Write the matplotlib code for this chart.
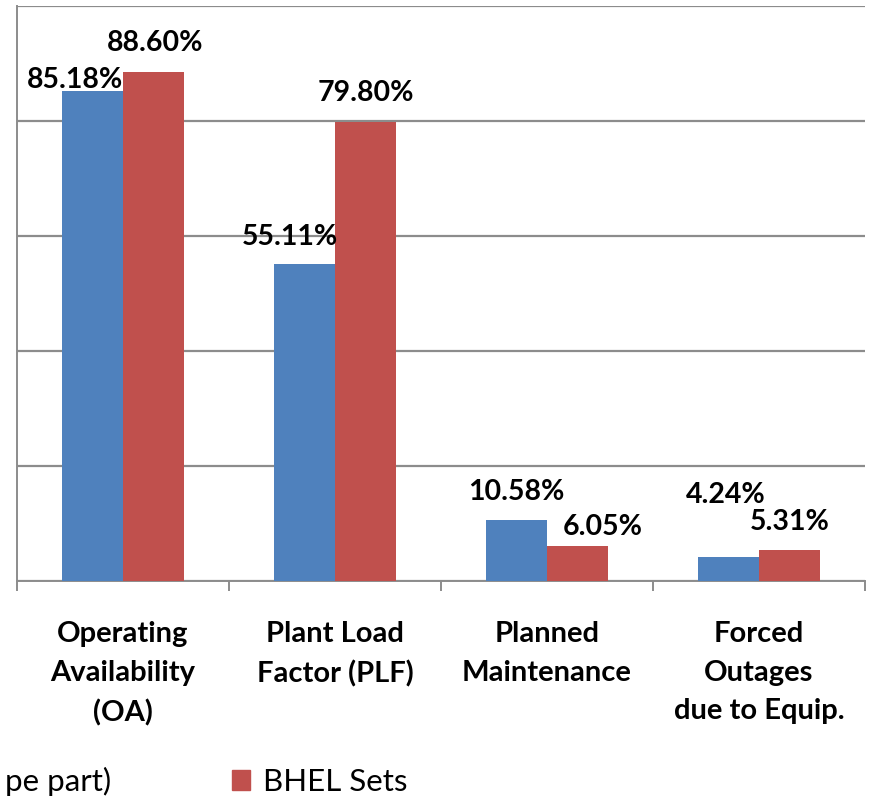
import matplotlib.pyplot as plt
import numpy as np

# chart values
categories = ["Operating\nAvailability\n(OA)", "Plant Load\nFactor (PLF)",
              "Planned\nMaintenance", "Forced\nOutages\ndue to Equip."]
other_sets = [85.18, 55.11, 10.58, 4.24]
bhel_sets = [88.60, 79.80, 6.05, 5.31]
series_names = ["pe part)", "BHEL Sets"]

# label offsets (pixels) from the top centre of each bar, as Excel placed them
blue_offsets = [(-17, 11), (-15, 27), (0, 28), (-3, 62)]
red_offsets = [(2, 29), (0, 29), (25, 19), (0, 28)]

BLUE = "#4F81BD"
RED = "#C0504D"
GRID = "#8C8C8C"

plt.rcParams['font.family'] = ['Lato', 'DejaVu Sans']

fig = plt.figure(figsize=(8.7, 7.99), dpi=100)
ax = fig.add_axes([17 / 870, 1 - 581 / 799, 848 / 870, 575 / 799])

x = np.arange(len(categories))
w = 0.288
b1 = ax.bar(x - w / 2, other_sets, w, color=BLUE, zorder=3)
b2 = ax.bar(x + w / 2, bhel_sets, w, color=RED, zorder=3)

px = 72 / 100  # pixels -> points
for bars, vals, offs in ((b1, other_sets, blue_offsets), (b2, bhel_sets, red_offsets)):
    for bar, v, (dx, dy) in zip(bars, vals, offs):
        ax.annotate(f"{v:.2f}%", (bar.get_x() + bar.get_width() / 2, v),
                    xytext=(dx * px, dy * px), textcoords="offset points",
                    ha="center", va="center", fontsize=20.5, fontweight="bold",
                    zorder=4)

ax.set_xlim(-0.5, len(categories) - 0.5)
ax.set_ylim(0, 100)
ax.set_yticks(np.arange(0, 101, 20))
ax.yaxis.grid(True, color=GRID, linewidth=1.6, zorder=1)
ax.tick_params(axis="y", left=False, labelleft=False)

ax.set_xticks(np.arange(-0.5, len(categories)), labels=[""] * (len(categories) + 1))
ax.set_xticks(x, labels=categories, minor=True)
ax.tick_params(axis="x", which="major", direction="out", length=10 * px,
               width=1.4, color=GRID)
ax.tick_params(axis="x", which="minor", length=0, pad=40 * px)
for lbl in ax.get_xticklabels(minor=True):
    lbl.set_fontsize(21)
    lbl.set_fontweight("bold")
    lbl.set_linespacing(1.6)

for side in ("top", "right"):
    ax.spines[side].set_visible(False)
for side in ("left", "bottom"):
    ax.spines[side].set_color(GRID)
    ax.spines[side].set_linewidth(1.4)

# legend, cut off on the left like the slide
fig.text(111 / 870, 1 - 791 / 799, series_names[0], fontsize=22.5,
         ha="right", va="baseline")
fig.patches.append(plt.Rectangle((232 / 870, 1 - 790 / 799), 18 / 870, 20 / 799,
                                 transform=fig.transFigure, color=RED))
fig.text(263 / 870, 1 - 791 / 799, series_names[1], fontsize=22.5, va="baseline")

fig.savefig("out.png", dpi=100)
